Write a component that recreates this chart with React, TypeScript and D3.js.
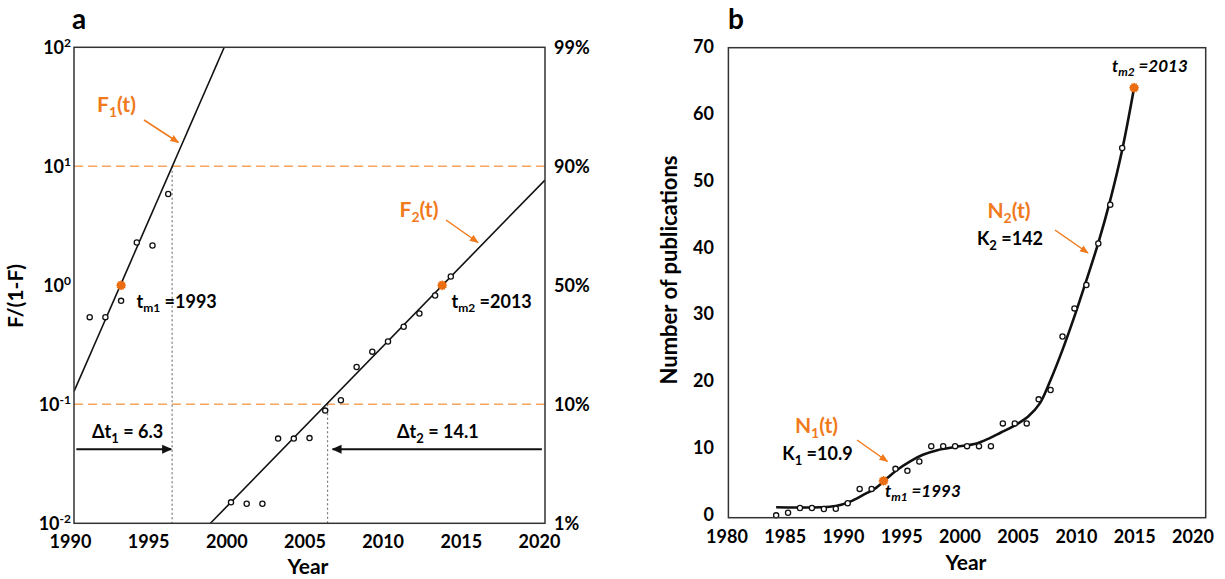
import React from 'react';
import * as d3 from 'd3';

// ---- panel a : F/(1-F) on a log axis ----
const A1_YEARS = [1991, 1992, 1993, 1994, 1995, 1996];
const A1_VALUES = [0.54, 0.54, 0.74, 2.29, 2.16, 5.85];
const A2_YEARS = [2000, 2001, 2002, 2003, 2004, 2005, 2006, 2007, 2008, 2009, 2010, 2011, 2012, 2013, 2014];
const A2_VALUES = [0.015, 0.0146, 0.0146, 0.0515, 0.0515, 0.052, 0.0885, 0.108, 0.206, 0.277, 0.337, 0.448, 0.579, 0.821, 1.186];
const A_FIT1: [number, number][] = [[1990, 0.128], [1999.57, 100]];
const A_FIT2: [number, number][] = [[1998.69, 0.01], [2020, 7.67]];
const A_MID: [number, number][] = [[1993, 1], [2013.45, 1]];
const A_LEVELS = [0.1, 10];
const A_CROSS: [number, number][] = [[1996.25, 10], [2006.15, 0.1]];
const A_XTICKS = [1990, 1995, 2000, 2005, 2010, 2015, 2020];
const A_EXP = [-2, -1, 0, 1, 2];
const A_PCT = ['1%', '10%', '50%', '90%', '99%'];

// ---- panel b : publications per year ----
const B_YEARS = [1984, 1985, 1986, 1987, 1988, 1989, 1990, 1991, 1992, 1994, 1995, 1996, 1997, 1998, 1999, 2000, 2001, 2002, 2003, 2004, 2005, 2006, 2007, 2008, 2009, 2010, 2011, 2012, 2013];
const B_COUNTS = [0.25, 0.64, 1.35, 1.35, 1.2, 1.24, 2.05, 4.2, 4.2, 7.2, 6.9, 8.3, 10.6, 10.6, 10.6, 10.6, 10.6, 10.6, 14.0, 14.0, 14.0, 17.6, 19.0, 27.0, 31.2, 34.7, 40.9, 46.7, 55.2];
const B_CURVE: [number, number][] = [
  [1984, 1.45], [1989, 1.65], [1990.2, 2.3], [1991.3, 3.3], [1992.4, 4.4], [1993.3, 5.8],
  [1994.1, 7.0], [1995.2, 8.3], [1996.3, 9.3], [1997.5, 10.0], [1999.1, 10.5], [2000.8, 11.0],
  [2001.9, 11.8], [2002.8, 12.6], [2003.9, 13.6], [2005.1, 15.0], [2006.1, 17.0], [2007, 20.5],
  [2008, 25], [2009, 30], [2010, 35.4], [2011, 41], [2012, 47.4], [2013, 54.9], [2014, 64.2],
];
const B_MID: [number, number][] = [[1993, 5.4], [2014, 64.2]];
const B_XTICKS = [1980, 1985, 1990, 1995, 2000, 2005, 2010, 2015, 2020];
const B_YTICKS = [0, 10, 20, 30, 40, 50, 60, 70];

const FONT = "Lato, 'Open Sans', sans-serif";
const ORANGE = '#f07a1c';
const ORANGE_DASH = '#f6a45e';
const MARK = '#eb6d12';

const A = { left: 74, right: 545, top: 47.3, bottom: 523.3 };
const B = { left: 728.4, right: 1205.7, top: 47.7, bottom: 517.7 };

const star = (r: number) =>
  d3.lineRadial<number>()
    .angle((_, i) => (i * Math.PI) / 12)
    .radius((_, i) => (i % 2 ? r * 0.78 : r))
    .curve(d3.curveLinearClosed)(d3.range(24)) as string;

export default function App() {
  const xA = d3.scaleLinear().domain([1990, 2020]).range([A.left, A.right]);
  const yA = d3.scaleLog().domain([0.01, 100]).range([A.bottom, A.top]);
  const xB = d3.scaleLinear().domain([1980, 2020]).range([B.left, B.right]);
  const yB = d3.scaleLinear().domain([0, 70]).range([517, 49]);
  // the year labels in the source sit a little tighter than the plot frame
  const xALabel = d3.scaleLinear().domain([1990, 2020]).range([70.5, 539.5]);
  const xBLabel = d3.scaleLinear().domain([1980, 2020]).range([727, 1193]);

  const lineA = d3.line<[number, number]>().x(d => xA(d[0])).y(d => yA(d[1]));
  const lineB = d3.line<[number, number]>().x(d => xB(d[0])).y(d => yB(d[1])).curve(d3.curveCatmullRom.alpha(0.5));

  const txt = { fontFamily: FONT, fontWeight: 700 } as const;
  const arrowY = yA(0.042);

  return (
    <svg width={1225} height={579} style={{ position: 'absolute', left: 0, top: 0, background: '#fff' }}>
      <defs>
        <marker id="headO" viewBox="0 0 10 10" refX="9" refY="5" markerWidth="6" markerHeight="6" orient="auto">
          <path d="M0,1 L10,5 L0,9 z" fill={ORANGE} />
        </marker>
        <marker id="headK" viewBox="0 0 10 10" refX="9" refY="5" markerWidth="5" markerHeight="5" orient="auto">
          <path d="M0,0.5 L10,5 L0,9.5 z" fill="#111" />
        </marker>
        <clipPath id="clipA">
          <rect x={A.left} y={A.top} width={A.right - A.left} height={A.bottom - A.top} />
        </clipPath>
      </defs>

      {/* ================= panel a ================= */}
      <text x={79} y={29} fontSize={28} textAnchor="middle" {...txt}>a</text>

      {A_LEVELS.map(v => (
        <line key={v} x1={A.left} x2={A.right} y1={yA(v)} y2={yA(v)}
          stroke={ORANGE_DASH} strokeWidth={1.6} strokeDasharray="9,5" />
      ))}
      {A_CROSS.map(([t, v]) => (
        <line key={t} x1={xA(t)} x2={xA(t)} y1={yA(v)} y2={A.bottom}
          stroke="#777" strokeWidth={1.2} strokeDasharray="2,2.5" />
      ))}

      <g clipPath="url(#clipA)">
        <path d={lineA(A_FIT1) as string} fill="none" stroke="#111" strokeWidth={1.6} />
        <path d={lineA(A_FIT2) as string} fill="none" stroke="#111" strokeWidth={1.6} />
      </g>

      {A1_YEARS.map((t, i) => (
        <circle key={'a1' + t} cx={xA(t)} cy={yA(A1_VALUES[i])} r={2.6} fill="#fff" stroke="#111" strokeWidth={1.3} />
      ))}
      {A2_YEARS.map((t, i) => (
        <circle key={'a2' + t} cx={xA(t)} cy={yA(A2_VALUES[i])} r={2.6} fill="#fff" stroke="#111" strokeWidth={1.3} />
      ))}
      {A_MID.map(([t, v]) => (
        <path key={t} d={star(5.2)} transform={`translate(${xA(t)},${yA(v)})`} fill={MARK} />
      ))}

      <rect x={A.left} y={A.top} width={A.right - A.left} height={A.bottom - A.top}
        fill="none" stroke="#333" strokeWidth={1.5} />

      {A_EXP.map(e => (
        <text key={e} x={71} y={yA(Math.pow(10, e))} dy="0.36em" fontSize={18} textAnchor="end" {...txt}>
          10<tspan dy={-7} fontSize={12}>{e}</tspan>
        </text>
      ))}
      {A_EXP.map((e, i) => (
        <text key={'p' + e} x={554} y={yA(Math.pow(10, e))} dy="0.36em" fontSize={18} {...txt}>{A_PCT[i]}</text>
      ))}
      {A_XTICKS.map(t => (
        <text key={t} x={xALabel(t)} y={548} fontSize={18} textAnchor="middle" {...txt}>{t}</text>
      ))}
      <text x={308} y={574} fontSize={21} textAnchor="middle" {...txt}>Year</text>
      <text transform="translate(23,296) rotate(-90)" fontSize={21} textAnchor="middle" {...txt}>F/(1-F)</text>

      {/* annotations a */}
      <text x={97} y={112} fontSize={21} fill={ORANGE} {...txt}>
        F<tspan dy={5} fontSize={14}>1</tspan><tspan dy={-5}>(t)</tspan>
      </text>
      <line x1={144} y1={120} x2={178.5} y2={142.5} stroke={ORANGE} strokeWidth={1.5} markerEnd="url(#headO)" />
      <text x={399.5} y={217} fontSize={21} fill={ORANGE} {...txt}>
        F<tspan dy={5} fontSize={14}>2</tspan><tspan dy={-5}>(t)</tspan>
      </text>
      <line x1={446} y1={220} x2={478} y2={242.5} stroke={ORANGE} strokeWidth={1.5} markerEnd="url(#headO)" />

      <text x={136.5} y={308} fontSize={18} {...txt}>
        t<tspan dy={4} fontSize={12}>m1</tspan><tspan dy={-4}> =1993</tspan>
      </text>
      <text x={451.5} y={308} fontSize={18} {...txt}>
        t<tspan dy={4} fontSize={12}>m2</tspan><tspan dy={-4}> =2013</tspan>
      </text>

      <text x={92} y={438} fontSize={18} {...txt}>
        Δt<tspan dy={5} fontSize={13}>1</tspan><tspan dy={-5}> = 6.3</tspan>
      </text>
      <line x1={xA(1990.15)} x2={xA(A_CROSS[0][0]) - 1} y1={arrowY} y2={arrowY}
        stroke="#111" strokeWidth={2} markerEnd="url(#headK)" />
      <text x={397} y={438} fontSize={18} {...txt}>
        Δt<tspan dy={5} fontSize={13}>2</tspan><tspan dy={-5}> = 14.1</tspan>
      </text>
      <line x1={xA(2019.8)} x2={xA(A_CROSS[1][0]) + 5} y1={arrowY} y2={arrowY}
        stroke="#111" strokeWidth={2} markerEnd="url(#headK)" />

      {/* ================= panel b ================= */}
      <text x={736} y={29} fontSize={28} textAnchor="middle" {...txt}>b</text>

      <path d={lineB(B_CURVE) as string} fill="none" stroke="#111" strokeWidth={2.6} />
      {B_YEARS.map((t, i) => (
        <circle key={'b' + t} cx={xB(t)} cy={yB(B_COUNTS[i])} r={2.6} fill="#fff" stroke="#111" strokeWidth={1.3} />
      ))}
      {B_MID.map(([t, v]) => (
        <path key={t} d={star(5.2)} transform={`translate(${xB(t)},${yB(v)})`} fill={MARK} />
      ))}

      <rect x={B.left} y={B.top} width={B.right - B.left} height={B.bottom - B.top}
        fill="none" stroke="#333" strokeWidth={1.5} />

      {B_YTICKS.map(v => (
        <text key={v} x={714} y={yB(v) - 2.5} dy="0.36em" fontSize={18} textAnchor="end" {...txt}>{v}</text>
      ))}
      {B_XTICKS.map(t => (
        <text key={t} x={xBLabel(t)} y={543} fontSize={18} textAnchor="middle" {...txt}>{t}</text>
      ))}
      <text x={966} y={570} fontSize={21} textAnchor="middle" {...txt}>Year</text>
      <text transform="translate(677,270) rotate(-90)" fontSize={22} textAnchor="middle" {...txt}>Number of publications</text>

      {/* annotations b */}
      <text x={1112} y={72} fontSize={17} fontStyle="italic" {...txt}>
        t<tspan dy={4} fontSize={12}>m2</tspan><tspan dy={-4}> =2013</tspan>
      </text>
      <text x={1009} y={218} fontSize={21} fill={ORANGE} textAnchor="middle" {...txt}>
        N<tspan dy={5} fontSize={14}>2</tspan><tspan dy={-5}>(t)</tspan>
      </text>
      <text x={1010} y={245} fontSize={18} textAnchor="middle" {...txt}>
        K<tspan dy={5} fontSize={13}>2</tspan><tspan dy={-5}> =142</tspan>
      </text>
      <line x1={1055} y1={230} x2={1088} y2={253} stroke={ORANGE} strokeWidth={1.5} markerEnd="url(#headO)" />

      <text x={816.5} y={433} fontSize={21} fill={ORANGE} textAnchor="middle" {...txt}>
        N<tspan dy={5} fontSize={14}>1</tspan><tspan dy={-5}>(t)</tspan>
      </text>
      <text x={817.5} y={460} fontSize={18} textAnchor="middle" {...txt}>
        K<tspan dy={5} fontSize={13}>1</tspan><tspan dy={-5}> =10.9</tspan>
      </text>
      <line x1={857} y1={440} x2={887.5} y2={461.5} stroke={ORANGE} strokeWidth={1.5} markerEnd="url(#headO)" />
      <text x={885} y={497} fontSize={17} fontStyle="italic" {...txt}>
        t<tspan dy={4} fontSize={12}>m1</tspan><tspan dy={-4}> =1993</tspan>
      </text>
    </svg>
  );
}
